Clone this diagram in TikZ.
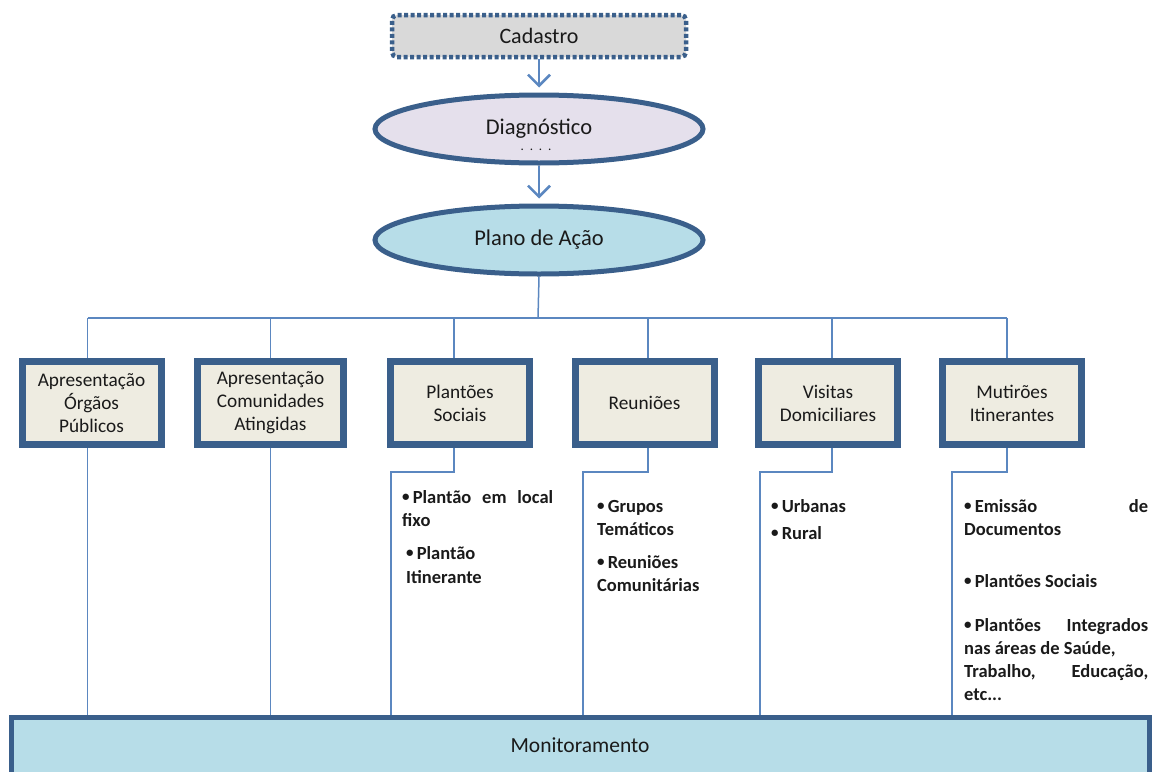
\documentclass[tikz,border=0pt]{standalone}
\usepackage{fontspec}
\setmainfont{Carlito}
\usetikzlibrary{shapes.geometric,arrows.meta,backgrounds}
\definecolor{bord}{HTML}{3A5F8B}
\definecolor{conn}{HTML}{5B87C0}
\definecolor{boxfill}{HTML}{EEECE1}
\definecolor{lav}{HTML}{E5E0EC}
\definecolor{aqua}{HTML}{B7DDE8}
\definecolor{grayfill}{HTML}{D9D9D9}
\definecolor{txt}{HTML}{1A1A1A}
\tikzset{
  cadbox/.style={draw=bord, line width=4.5pt, dash pattern=on 4pt off 2.5pt, fill=grayfill, rounded corners=5pt, minimum width=294pt, minimum height=42pt, font=\fontsize{22}{24}\selectfont, text=txt},
  ell/.style={ellipse, draw=bord, line width=5pt, minimum width=328pt, minimum height=68pt, font=\fontsize{22.5}{24}\selectfont, text=txt},
  actbox/.style={draw=bord, line width=7pt, fill=boxfill, minimum width=139pt, minimum height=83pt, align=center, font=\fontsize{19.3}{23}\selectfont, text=txt, inner sep=2pt},
  monbox/.style={draw=bord, line width=5pt, fill=aqua, minimum width=1138pt, minimum height=57pt, font=\fontsize{21.5}{24}\selectfont, text=txt},
  conline/.style={draw=conn, line width=1.5pt},
  arr/.style={draw=conn, line width=2.5pt, -{Straight Barb[length=11pt,width=22pt]}},
  lst/.style={anchor=base west, inner sep=0pt, font=\fontsize{18.5}{20}\selectfont\bfseries, text=txt}
}
\newcommand{\bul}{\raisebox{0.2ex}{\fontsize{15}{15}\selectfont\textbullet}\,}
\begin{document}
\begin{tikzpicture}[x=1pt,y=-1pt]
\useasboundingbox (0,0) rectangle (1155,771);
% top chain
\node[cadbox] (cad) at (539,36) {Cadastro};
\node[ell, fill=lav] (diag) at (539,129) {\raisebox{2pt}{Diagnóstico}};
\node[font=\fontsize{13}{13}\selectfont, text=txt, inner sep=0pt, anchor=base] (dots) at (536,150) {.\ \ .\ \ .\ \ .};
\node[ell, fill=aqua] (plano) at (539,240) {Plano de Ação};
\draw[arr, shorten >=5pt] (cad.south) -- (diag.north);
\draw[arr, shorten >=5pt] (diag.south) -- (plano.north);
% action boxes
\node[actbox] (b1) at (91.5,403) {Apresentação\\Órgãos\\Públicos};
\node[actbox, minimum width=146pt] (b2) at (270.5,403) {Apresentação\\Comunidades\\Atingidas};
\node[actbox] (b3) at (460,403) {Plantões\\Sociais};
\node[actbox] (b4) at (644.5,403) {Reuniões};
\node[actbox] (b5) at (828,403) {Visitas\\Domiciliares};
\node[actbox] (b6) at (1012,403) {Mutirões\\Itinerantes};
\node[monbox] (mon) at (580,745.5) {Monitoramento};
\coordinate (bus) at (538,318);
\begin{scope}[on background layer]
\draw[conline] (plano.south) -- (bus);
\draw[conline] ([xshift=-4pt]b1.north |- bus) -- ([xshift=-5pt]b6.north |- bus);
\draw[conline] ([xshift=-4pt]b1.north) -- ([xshift=-4pt]b1.north |- bus);
\draw[conline] (b2.north) -- (b2.north |- bus);
\draw[conline] ([xshift=-6pt]b3.north) -- ([xshift=-6pt]b3.north |- bus);
\draw[conline] ([xshift=3.5pt]b4.north) -- ([xshift=3.5pt]b4.north |- bus);
\draw[conline] ([xshift=4pt]b5.north) -- ([xshift=4pt]b5.north |- bus);
\draw[conline] ([xshift=-5pt]b6.north) -- ([xshift=-5pt]b6.north |- bus);
% lower connectors
\draw[conline] ([xshift=-4pt]b1.south) -- ([xshift=-4pt]b1.south |- mon.north);
\draw[conline] (b2.south) -- (b2.south |- mon.north);
\draw[conline] ([xshift=-6pt]b3.south) |- (391,472) -- (391,717);
\draw[conline] ([xshift=3.5pt]b4.south) |- (583,472) -- (583,717);
\draw[conline] ([xshift=4pt]b5.south) |- (760,472) -- (760,717);
\draw[conline] ([xshift=-5pt]b6.south) |- (952,472) -- (952,717);
\end{scope}
% lists
\node[lst] (l31) at (402,503) {\makebox[151pt][s]{\bul Plantão em local}};
\node[lst] (l32) at (402,526) {fixo};
\node[lst] (l33) at (406,559) {\bul Plantão};
\node[lst] (l34) at (406,583) {Itinerante};
\node[lst] (l41) at (597,512) {\bul Grupos};
\node[lst] (l42) at (597,535) {Temáticos};
\node[lst] (l43) at (597,568) {\bul Reuniões};
\node[lst] (l44) at (597,591) {Comunitárias};
\node[lst] (l51) at (771,512) {\bul Urbanas};
\node[lst] (l52) at (771,539) {\bul Rural};
\node[lst] (l61) at (964,512) {\makebox[184pt][s]{\bul Emissão de}};
\node[lst] (l62) at (964,535) {Documentos};
\node[lst] (l63) at (964,587) {\bul Plantões Sociais};
\node[lst] (l64) at (964,631) {\makebox[184pt][s]{\bul Plantões Integrados}};
\node[lst] (l65) at (964,654) {nas áreas de Saúde,};
\node[lst] (l66) at (964,677) {\makebox[184pt][s]{Trabalho, Educação,}};
\node[lst] (l67) at (964,700) {etc...};
\end{tikzpicture}
\end{document}
